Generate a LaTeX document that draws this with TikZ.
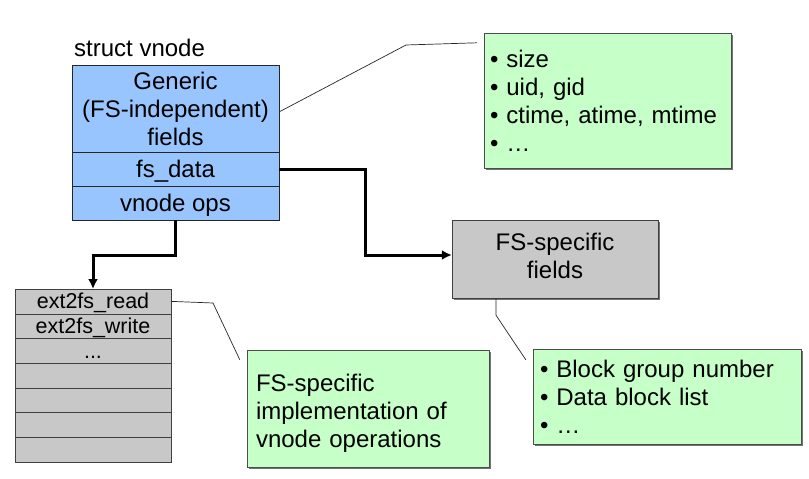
\documentclass[tikz,border=0pt]{standalone}
\usepackage{fontspec}
\setmainfont{Liberation Sans}
\usetikzlibrary{positioning,shadows,arrows.meta}
\definecolor{fieldblue}{RGB}{153,197,255}
\definecolor{notegreen}{RGB}{198,255,200}
\definecolor{slotgray}{RGB}{200,200,200}

\begin{document}
\begin{tikzpicture}[x=1pt, y=-1pt, font=\fontsize{24}{28}\selectfont,
                field/.style ={rectangle, draw=black!85, fill=fieldblue, minimum width=207pt,
                inner sep=0pt, outer sep=0pt, align=center},
                slot/.style ={rectangle, draw=black!75, fill=slotgray, minimum width=156pt,
                minimum height=24.71pt, inner sep=0pt, outer sep=0pt, text height=15pt, text depth=0pt,
                font=\fontsize{21.5}{24}\selectfont},
                note/.style ={rectangle, draw=black!70, fill=notegreen, inner ysep=0pt, align=left,
                drop shadow={shadow xshift=1.5pt, shadow yshift=-1.5pt, fill=black!55, opacity=1}},
                link/.style ={-{Latex[length=10pt,width=10pt]}, line width=3pt},
                callout/.style ={line width=0.7pt, black!85}]

            \useasboundingbox (0,0) rectangle (809,479);

            %struct vnode
            \node[anchor=base west, inner sep=0pt] (title) at (74,56) {struct vnode};
            \node[field, minimum height=87pt] (generic) at (175.5,108.5) {Generic\\(FS-independent)\\fields};
            \node[field, minimum height=34pt, text height=17pt, text depth=0pt, below=0pt of generic] (fsdata) {fs\_data};
            \node[field, minimum height=34pt, text height=17pt, text depth=0pt, below=0pt of fsdata] (vops) {vnode ops};

            %tabla de operaciones
            \node[slot] (r0) at (93,301.36) {ext2fs\_read};
            \node[slot, below=0pt of r0] (r1) {ext2fs\_write};
            \node[slot, below=0pt of r1] (r2) {...};
            \foreach \i [count=\j from 3] in {2,...,5}
                \node[slot, below=0pt of r\i] (r\j) {};

            %campos propios
            \node[rectangle, draw=black!75, fill=slotgray, minimum width=206pt, minimum height=78pt,
                  align=center, text depth=7pt,
                  drop shadow={shadow xshift=1.5pt, shadow yshift=-1.5pt, fill=black!55, opacity=1}]
                  (fsspec) at (555,259) {FS-specific\\fields};

            %notas
            \node[note, minimum width=247pt, minimum height=135pt, inner xsep=6pt, text width=235pt]
                  (attrs) at (607.5,100.5) {• size\\• uid, gid\\• ctime, atime, mtime\\• …};
            \node[note, minimum width=242pt, minimum height=117pt, inner xsep=9pt, text width=224pt]
                  (impl) at (368,408.5) {\rule{0pt}{27.6pt}FS-specific\\implementation of\\vnode operations};
            \node[note, minimum width=268pt, minimum height=95pt, inner xsep=7pt, text width=254pt]
                  (blocks) at (667,396.5) {• Block group number\\• Data block list\\• …};

            \draw[link] (fsdata.east) -- ++(86,0) |- ([yshift=4pt]fsspec.west);
            \draw[link] (vops.south) -- ++(0,35) -| (r0.north);

            \draw[callout] ([yshift=-3.5pt]generic.east) -- (406,45) -- ([xshift=-7pt,yshift=-10pt]attrs.north west);
            \draw[callout] (r0.east) -- (213,303) -- ([xshift=-7pt,yshift=-10pt]impl.north west);
            \draw[callout] ([xshift=-59pt]fsspec.south) -- ++(0,17) -- ([xshift=-7pt,yshift=-11pt]blocks.north west);
    \end{tikzpicture}
\end{document}
